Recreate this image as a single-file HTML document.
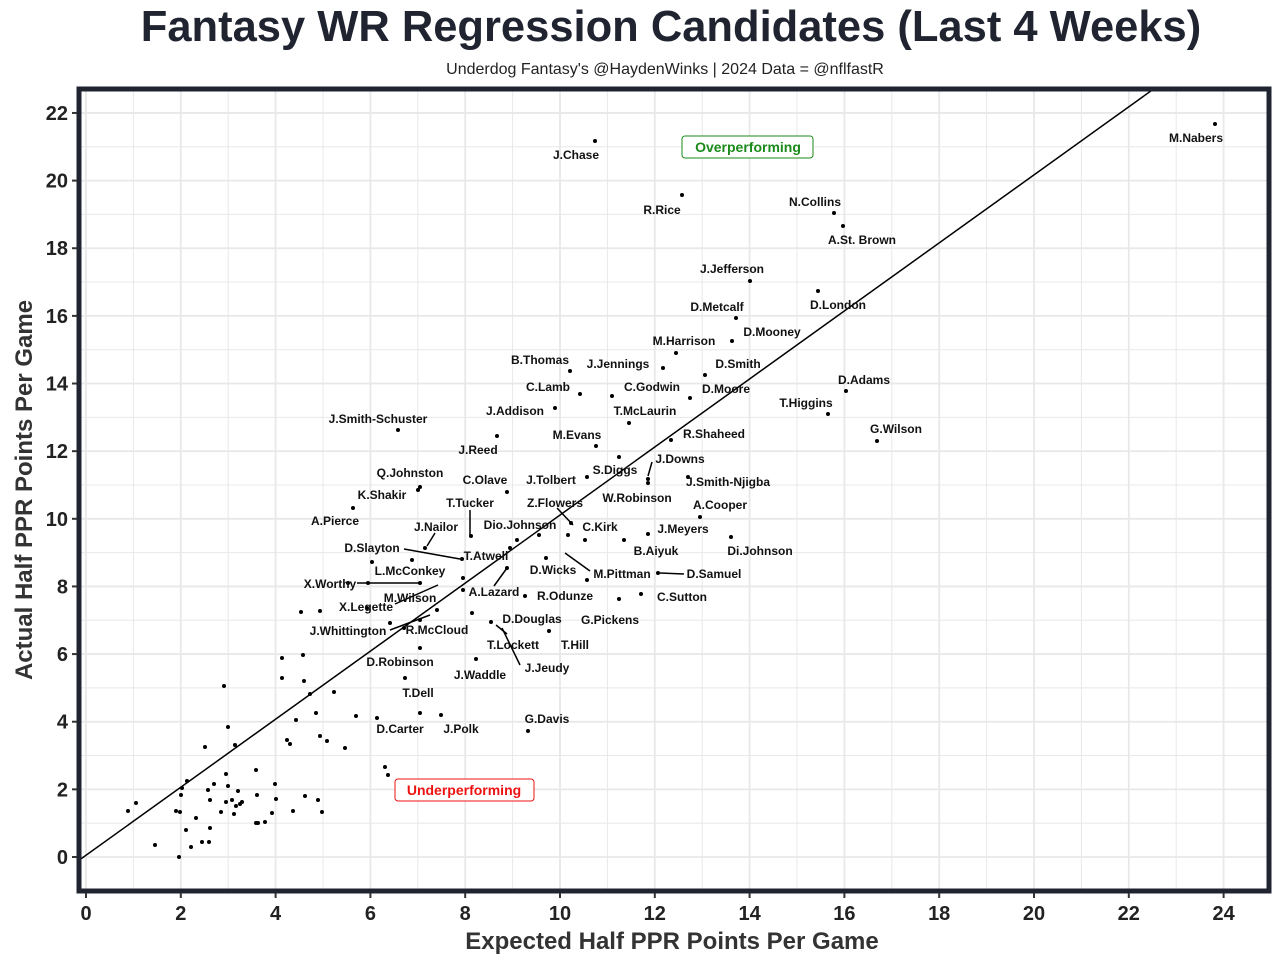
<!DOCTYPE html>
<html><head><meta charset="utf-8"><style>
body{margin:0;background:#fff}
svg{display:block;font-family:"Liberation Sans",Arial,sans-serif}
.l{font-size:12px;font-weight:bold;fill:#111;text-anchor:middle}
.t{font-size:20px;font-weight:bold;fill:#222;}
</style></head><body>
<svg width="1280" height="964" viewBox="0 0 1280 964">
<rect width="1280" height="964" fill="#fff"/>
<text x="671" y="41" text-anchor="middle" font-size="43.5" font-weight="bold" fill="#1f2430">Fantasy WR Regression Candidates (Last 4 Weeks)</text>
<text x="665" y="74" text-anchor="middle" font-size="16" fill="#222">Underdog Fantasy's @HaydenWinks | 2024 Data = @nflfastR</text>
<g id="grid" stroke="#e8e8e8"></g>
<line x1="78" y1="861" x2="1155" y2="88" stroke="#000" stroke-width="1.5"/>
<g id="pts" fill="#000"></g>
<g id="lines" stroke="#000" stroke-width="1.5"></g>
<g id="labs"></g>
<rect x="682" y="136" width="131" height="22" rx="3" fill="#fff" stroke="#1a8a1a"/>
<text x="748" y="152" text-anchor="middle" font-size="14" font-weight="bold" fill="#1a8a1a">Overperforming</text>
<rect x="395" y="779" width="139" height="22" rx="3" fill="#fff" stroke="#e11"/>
<text x="464" y="795" text-anchor="middle" font-size="14" font-weight="bold" fill="#e11">Underperforming</text>
<rect x="79" y="89" width="1190" height="802" fill="none" stroke="#1f2430" stroke-width="5"/>
<g id="ticks"></g>
<text x="672" y="949" text-anchor="middle" font-size="24" font-weight="bold" fill="#333">Expected Half PPR Points Per Game</text>
<text transform="translate(32,490) rotate(-90)" text-anchor="middle" font-size="24" font-weight="bold" fill="#333">Actual Half PPR Points Per Game</text>
</svg>
<script>
const NS="http://www.w3.org/2000/svg";
function el(p,t,a,txt){const e=document.createElementNS(NS,t);for(const k in a)e.setAttribute(k,a[k]);if(txt)e.textContent=txt;document.getElementById(p).appendChild(e);return e;}
const X=v=>86+v*47.4,Y=v=>857-v*33.82;
for(let i=0;i<=25;i++){el("grid","line",{x1:X(i),x2:X(i),y1:89,y2:891,"stroke-width":i%2?1:1.8});}
for(let i=0;i<=22;i++){el("grid","line",{x1:79,x2:1269,y1:Y(i),y2:Y(i),"stroke-width":i%2?1:1.8});}
for(let i=0;i<=24;i+=2){el("ticks","line",{x1:X(i),x2:X(i),y1:893,y2:898,stroke:"#333","stroke-width":2});el("ticks","text",{x:X(i),y:920,"text-anchor":"middle",class:"t"},String(i));}
for(let i=0;i<=22;i+=2){el("ticks","line",{x1:72,x2:77,y1:Y(i),y2:Y(i),stroke:"#333","stroke-width":2});el("ticks","text",{x:68,y:Y(i)+7,"text-anchor":"end",class:"t"},String(i));}
const P=[[595,141],[682,195],[834,213],[843,226],[1215,124],[750,281],[818,291],[736,318],[732,341],[676,353],[570,371],[663,368],[705,375],[580,394],[612,396],[690,398],[846,391],[828,414],[555,408],[629,423],[398,430],[596,446],[671,440],[877,441],[497,436],[648,483],[648,479],[619,457],[688,477],[420,487],[418,490],[587,477],[507,492],[353,508],[471,536],[571,523],[700,517],[425,548],[539,535],[568,535],[585,540],[648,534],[731,537],[462,559],[510,548],[624,540],[546,558],[587,580],[658,573],[412,560],[368,583],[420,583],[507,568],[525,596],[641,594],[619,599],[437,610],[463,578],[491,622],[549,631],[476,659],[405,678],[528,731],[377,718],[441,715],[372,562],[517,540],[463,590],[472,613],[420,620],[390,623],[404,628],[420,648],[367,608],[348,583],[320,611],[301,612],[303,655],[282,658],[282,678],[304,681],[310,694],[316,713],[334,692],[356,716],[420,713],[385,767],[388,775],[296,720],[287,740],[290,744],[320,736],[327,741],[345,748],[305,796],[318,800],[322,812],[275,784],[256,770],[276,799],[293,811],[257,795],[258,823],[228,727],[235,745],[224,686],[205,747],[214,784],[232,800],[226,774],[228,786],[208,790],[210,800],[226,802],[221,812],[238,791],[240,804],[242,802],[236,806],[234,814],[210,828],[182,788],[187,781],[181,795],[176,811],[180,812],[196,818],[202,842],[209,842],[186,830],[191,847],[155,845],[179,857],[128,811],[136,803],[256,823],[272,813],[265,822]];
P.forEach(p=>el("pts","circle",{cx:p[0],cy:p[1],r:2}));
const L=[[648,476,652,462],[470,510,470,536],[557,508,573,525],[427,546,435,533],[404,549,460,559],[565,553,590,571],[660,573,684,574],[357,583,420,583],[494,586,507,568],[395,604,438,585],[390,630,430,615],[496,625,507,634],[502,628,520,665]];
L.forEach(l=>el("lines","line",{x1:l[0],y1:l[1],x2:l[2],y2:l[3]}));
const T=[["J.Chase",576,155],["R.Rice",662,210],["N.Collins",815,202],["A.St. Brown",862,240],["M.Nabers",1196,138],["J.Jefferson",732,269],["D.London",838,305],["D.Metcalf",717,307],["D.Mooney",772,332],["M.Harrison",684,341],["B.Thomas",540,360],["J.Jennings",618,364],["D.Smith",738,364],["C.Lamb",548,387],["C.Godwin",652,387],["D.Moore",726,389],["D.Adams",864,380],["T.Higgins",806,403],["J.Addison",515,411],["T.McLaurin",645,411],["J.Smith-Schuster",378,419],["M.Evans",577,435],["R.Shaheed",714,434],["G.Wilson",896,429],["J.Reed",478,450],["J.Downs",680,459],["S.Diggs",615,470],["J.Smith-Njigba",728,482],["Q.Johnston",410,473],["J.Tolbert",551,480],["C.Olave",485,480],["W.Robinson",637,498],["K.Shakir",382,495],["T.Tucker",470,503],["Z.Flowers",555,503],["A.Cooper",720,505],["A.Pierce",335,521],["J.Nailor",436,527],["Dio.Johnson",520,525],["C.Kirk",600,527],["J.Meyers",683,529],["Di.Johnson",760,551],["D.Slayton",372,548],["T.Atwell",486,556],["B.Aiyuk",656,551],["D.Wicks",553,570],["M.Pittman",622,574],["D.Samuel",714,574],["L.McConkey",410,571],["X.Worthy",330,584],["A.Lazard",494,592],["R.Odunze",565,596],["C.Sutton",682,597],["M.Wilson",410,598],["X.Legette",366,607],["G.Pickens",610,620],["D.Douglas",532,619],["J.Whittington",348,631],["R.McCloud",437,630],["T.Hill",575,645],["T.Lockett",513,645],["D.Robinson",400,662],["J.Jeudy",547,668],["J.Waddle",480,675],["T.Dell",418,693],["G.Davis",547,719],["D.Carter",400,729],["J.Polk",461,729]];
T.forEach(t=>el("labs","text",{x:t[1],y:t[2]+4,class:"l"},t[0]));
</script>
</body></html>
